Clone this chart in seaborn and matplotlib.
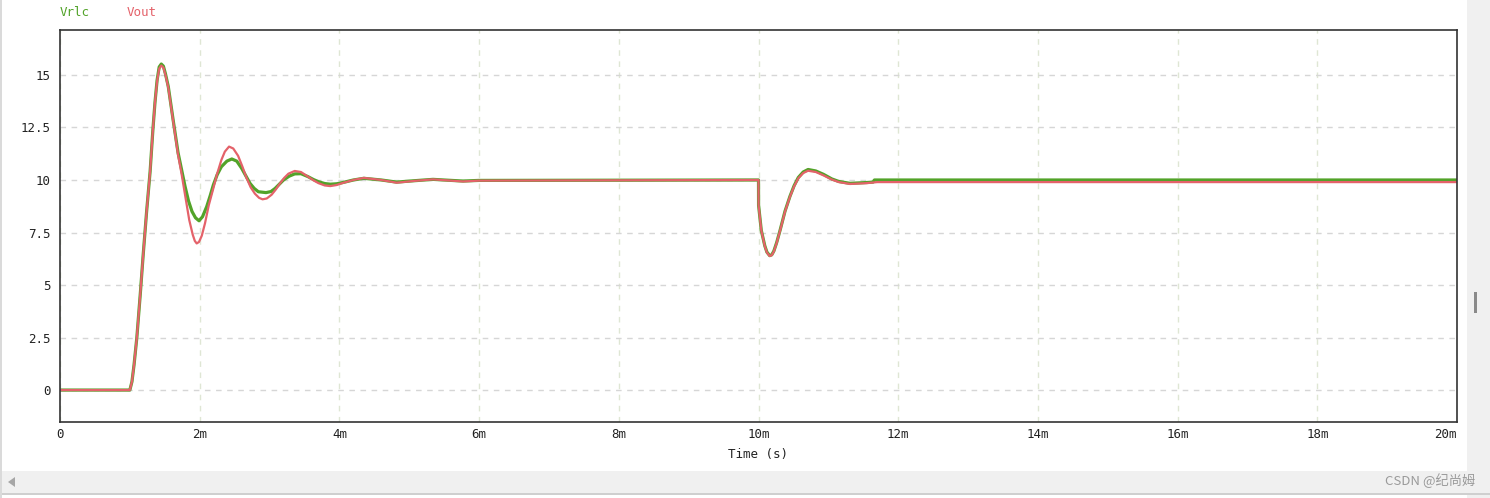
import matplotlib
matplotlib.use("Agg")
import matplotlib.pyplot as plt
import matplotlib.patches as mpatches
import seaborn as sns

# 时间单位: ms
t_vout = [0.0, 1.0, 1.03, 1.06, 1.10, 1.15, 1.19, 1.24, 1.29, 1.33, 1.36, 1.39, 1.42, 1.45,
          1.48, 1.51, 1.55, 1.62, 1.69, 1.74, 1.79, 1.85, 1.90, 1.93, 1.957, 1.99, 2.03,
          2.076, 2.13, 2.195, 2.25, 2.31, 2.36, 2.42, 2.48, 2.55, 2.61, 2.67, 2.73, 2.79,
          2.85, 2.90, 2.96, 3.03, 3.09, 3.15, 3.21, 3.27, 3.36, 3.45, 3.55, 3.63, 3.70,
          3.79, 3.87, 3.96, 4.05, 4.20, 4.35, 4.60, 4.82, 5.05, 5.34, 5.55, 5.77, 6.0,
          10.0, 10.001, 10.04, 10.09, 10.12, 10.16, 10.19, 10.22, 10.26, 10.31, 10.38,
          10.45, 10.51, 10.57, 10.64, 10.71, 10.82, 10.93, 11.05, 11.15, 11.31, 11.55,
          11.7, 20.0]
v_vout = [0.0, 0.0, 0.4, 1.2, 2.5, 4.6, 6.4, 8.5, 10.4, 12.4, 13.7, 14.7, 15.3, 15.45,
          15.35, 15.0, 14.4, 12.8, 11.2, 10.3, 9.3, 8.1, 7.4, 7.1, 6.98, 7.05, 7.35,
          7.94, 8.8, 9.6, 10.3, 10.95, 11.35, 11.59, 11.5, 11.15, 10.65, 10.1, 9.65, 9.35,
          9.15, 9.08, 9.12, 9.3, 9.55, 9.84, 10.1, 10.3, 10.43, 10.38, 10.16, 9.98, 9.85,
          9.74, 9.71, 9.76, 9.86, 10.0, 10.1, 10.0, 9.87, 9.95, 10.03, 9.98, 9.93, 9.97,
          10.0, 8.8, 7.6, 6.85, 6.55, 6.38, 6.42, 6.6, 7.0, 7.6, 8.5,
          9.2, 9.7, 10.08, 10.33, 10.44, 10.38, 10.22, 10.02, 9.9, 9.81, 9.85,
          9.9, 9.9]

t_vrlc = [0.0, 1.0, 1.03, 1.06, 1.10, 1.15, 1.19, 1.24, 1.29, 1.33, 1.36, 1.39, 1.42, 1.45,
          1.48, 1.51, 1.55, 1.62, 1.69, 1.74, 1.79, 1.84, 1.89, 1.94, 1.99, 2.04, 2.10,
          2.15, 2.195, 2.25, 2.31, 2.39, 2.46, 2.53, 2.60, 2.66, 2.72, 2.78, 2.84, 2.95,
          3.02, 3.08, 3.14, 3.20, 3.28, 3.36, 3.45, 3.55, 3.63, 3.70, 3.79, 3.87, 3.96,
          4.05, 4.20, 4.35, 4.60, 4.82, 5.05, 5.34, 5.55, 5.77, 6.0,
          10.0, 10.001, 10.04, 10.09, 10.12, 10.16, 10.19, 10.22, 10.26, 10.31, 10.38,
          10.45, 10.51, 10.57, 10.64, 10.71, 10.82, 10.93, 11.05, 11.15, 11.31, 11.55,
          11.64, 11.66, 20.0]
v_vrlc = [0.0, 0.0, 0.4, 1.2, 2.5, 4.6, 6.4, 8.5, 10.4, 12.4, 13.7, 14.75, 15.38, 15.52,
          15.42, 15.05, 14.45, 12.85, 11.3, 10.5, 9.7, 9.0, 8.5, 8.2, 8.06, 8.25, 8.73,
          9.25, 9.76, 10.25, 10.63, 10.9, 11.0, 10.9, 10.56, 10.2, 9.84, 9.6, 9.44, 9.4,
          9.45, 9.6, 9.8, 10.0, 10.18, 10.29, 10.3, 10.16, 10.02, 9.92, 9.83, 9.8, 9.82,
          9.88, 10.0, 10.08, 10.0, 9.9, 9.96, 10.03, 9.99, 9.95, 9.98,
          10.0, 8.8, 7.6, 6.87, 6.57, 6.4, 6.44, 6.62, 7.02, 7.62, 8.52,
          9.22, 9.73, 10.12, 10.38, 10.5, 10.43, 10.27, 10.05, 9.93, 9.84, 9.88,
          9.9, 10.0, 10.0]

x_ticks = [0, 2, 4, 6, 8, 10, 12, 14, 16, 18, 20]
x_labels = ["0", "2m", "4m", "6m", "8m", "10m", "12m", "14m", "16m", "18m", "20m"]
y_ticks = [0, 2.5, 5, 7.5, 10, 12.5, 15]
y_labels = ["0", "2.5", "5", "7.5", "10", "12.5", "15"]

GREEN = "#52a329"
RED = "#e4626a"

sns.set_style("white")
plt.rcParams["font.family"] = ["DejaVu Sans Mono", "Noto Sans CJK SC", "DejaVu Sans"]

fig = plt.figure(figsize=(14.9, 4.98), dpi=100)
fig.patch.set_facecolor("white")

# 窗口外框 (滚动条等)
fig.patches.append(mpatches.Rectangle((1467 / 1490, 0), 23 / 1490, 1, transform=fig.transFigure,
                                      facecolor="#f0f0f0", edgecolor="none", zorder=0))
fig.patches.append(mpatches.Rectangle((0, 5 / 498), 1467 / 1490, 22 / 498, transform=fig.transFigure,
                                      facecolor="#f0f0f0", edgecolor="none", zorder=0))
fig.patches.append(mpatches.Rectangle((0, 3 / 498), 1, 2 / 498, transform=fig.transFigure,
                                      facecolor="#cfcfcf", edgecolor="none", zorder=0))
fig.patches.append(mpatches.Rectangle((0, 0), 2 / 1490, 1, transform=fig.transFigure,
                                      facecolor="#dadada", edgecolor="none", zorder=0))
fig.patches.append(mpatches.Rectangle((1474 / 1490, 185 / 498), 3 / 1490, 21 / 498,
                                      transform=fig.transFigure,
                                      facecolor="#8a8a8a", edgecolor="none", zorder=1))
fig.patches.append(mpatches.Polygon([(8 / 1490, 16 / 498), (15 / 1490, 21 / 498), (15 / 1490, 11 / 498)],
                                    closed=True, transform=fig.transFigure,
                                    facecolor="#a6a6a6", edgecolor="none", zorder=1))

ax = fig.add_axes([60 / 1490, 76 / 498, 1397 / 1490, 392 / 498])

sns.lineplot(x=t_vrlc, y=v_vrlc, ax=ax, color=GREEN, lw=2.3, estimator=None, sort=False)
sns.lineplot(x=t_vout, y=v_vout, ax=ax, color=RED, lw=1.6, estimator=None, sort=False)

ax.set_xlim(0, 20)
ax.set_ylim(-1.52, 17.14)
ax.set_xticks(x_ticks)
ax.set_xticklabels(x_labels)
ax.set_yticks(y_ticks)
ax.set_yticklabels(y_labels)
ax.tick_params(axis="both", length=0, labelsize=9, labelcolor="#222222")
ax.tick_params(axis="x", pad=4)
ax.tick_params(axis="y", pad=7)
# 最后一个刻度标签靠右对齐, 不超出坐标框
ax.get_xticklabels()[-1].set_horizontalalignment("right")

ax.grid(axis="y", color="#d6d6d6", lw=1, ls=(0, (4, 4)))
ax.grid(axis="x", color="#dfe6d4", lw=1, ls=(0, (4, 4)))
ax.set_axisbelow(True)

for s in ax.spines.values():
    s.set_color("#333333")
    s.set_linewidth(1.2)

ax.set_xlabel("Time (s)", fontsize=9, color="#222222", labelpad=5)
ax.set_ylabel("")

fig.text(60 / 1490, 1 - 13 / 498, "Vrlc", color=GREEN, fontsize=9, ha="left", va="center")
fig.text(127 / 1490, 1 - 13 / 498, "Vout", color=RED, fontsize=9, ha="left", va="center")
fig.text(1475 / 1490, 1 - 481 / 498, "CSDN @纪尚姆", color="#9a9a9a", fontsize=9.5,
         ha="right", va="center", family=["Noto Sans CJK SC", "DejaVu Sans"])

fig.savefig("out.png", dpi=100)
plt.close(fig)
